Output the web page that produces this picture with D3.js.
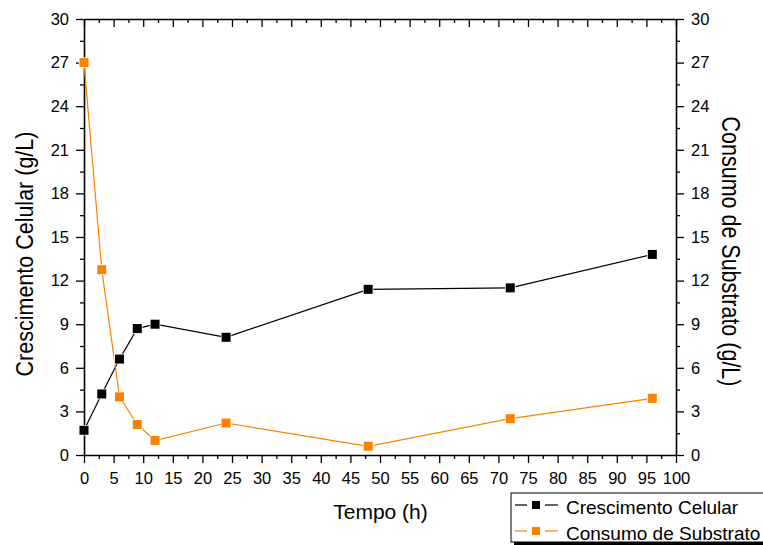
<!DOCTYPE html>
<html>
<head>
<meta charset="utf-8">
<script src="https://cdn.jsdelivr.net/npm/d3@7"></script>
<style>
  body { margin: 0; background: #fff; }
  svg { font-family: "Liberation Sans", Arial, sans-serif; }
</style>
</head>
<body>
<div id="chart"></div>
<script>
// data
const tempo = [0, 3, 6, 9, 12, 24, 48, 72, 96];
const crescimento = [1.7, 4.2, 6.6, 8.7, 9.0, 8.1, 11.4, 11.5, 13.8];
const consumo = [27.0, 12.75, 4.0, 2.1, 1.0, 2.2, 0.6, 2.5, 3.9];
const xTicks = d3.range(0, 101, 5);
const yTicks = d3.range(0, 31, 3);
const seriesNames = ["Crescimento Celular", "Consumo de Substrato"];
const seriesColors = ["#000000", "#FF8000"];

const W = 763, H = 545;
const margin = {left: 84, right: W - 676, top: 19, bottom: H - 455};
const width = W - margin.left - margin.right;
const height = H - margin.top - margin.bottom;

const svg = d3.select("#chart").append("svg")
  .attr("width", W).attr("height", H);

const g = svg.append("g")
  .attr("transform", "translate(" + margin.left + "," + margin.top + ")");

const x = d3.scaleLinear().domain([0, 100]).range([0, width]);
const yL = d3.scaleLinear().domain([0, 30]).range([height, 0]);
const yR = d3.scaleLinear().domain([0, 30]).range([height, 0]);

// minor ticks
const xMinor = d3.range(2.5, 100, 5);
const yMinor = d3.range(1.5, 30, 3);

function styleAxis(sel) {
  sel.selectAll("path").attr("stroke", "#000").attr("stroke-width", 1.6);
  sel.selectAll("line").attr("stroke", "#000").attr("stroke-width", 1.3);
  sel.selectAll("text").attr("font-size", 16.5).attr("fill", "#000");
}

// bottom
const bx = g.append("g").attr("transform", "translate(0," + height + ")")
  .call(d3.axisBottom(x).tickValues(xTicks).tickSize(8).tickSizeOuter(0).tickPadding(9));
styleAxis(bx);
g.append("g").attr("transform", "translate(0," + height + ")")
  .call(d3.axisBottom(x).tickValues(xMinor).tickSize(4).tickFormat(""))
  .call(s => { s.select("path").remove(); styleAxis(s); });

// top (ticks inward)
const tx = g.append("g")
  .call(d3.axisBottom(x).tickValues(xTicks).tickSize(8).tickSizeOuter(0).tickFormat(""));
styleAxis(tx);
g.append("g")
  .call(d3.axisBottom(x).tickValues(xMinor).tickSize(4).tickFormat(""))
  .call(s => { s.select("path").remove(); styleAxis(s); });

// left
const ly = g.append("g")
  .call(d3.axisLeft(yL).tickValues(yTicks).tickSize(8).tickSizeOuter(0).tickPadding(7));
styleAxis(ly);
g.append("g")
  .call(d3.axisLeft(yL).tickValues(yMinor).tickSize(4).tickFormat(""))
  .call(s => { s.select("path").remove(); styleAxis(s); });

// right
const ry = g.append("g").attr("transform", "translate(" + width + ",0)")
  .call(d3.axisRight(yR).tickValues(yTicks).tickSize(8).tickSizeOuter(0).tickPadding(7));
styleAxis(ry);
g.append("g").attr("transform", "translate(" + width + ",0)")
  .call(d3.axisRight(yR).tickValues(yMinor).tickSize(4).tickFormat(""))
  .call(s => { s.select("path").remove(); styleAxis(s); });

// series
const series = [
  {name: seriesNames[0], color: seriesColors[0], values: crescimento, y: yL},
  {name: seriesNames[1], color: seriesColors[1], values: consumo, y: yR}
];

series.forEach(s => {
  const pts = tempo.map((t, i) => [t, s.values[i]]);
  g.append("path")
    .datum(pts)
    .attr("fill", "none")
    .attr("stroke", s.color)
    .attr("stroke-width", 1.2)
    .attr("d", d3.line().x(d => x(d[0])).y(d => s.y(d[1])));
});

series.forEach(s => {
  const pts = tempo.map((t, i) => [t, s.values[i]]);
  g.append("g").selectAll("rect")
    .data(pts)
    .enter()
    .append("rect")
      .attr("x", d => x(d[0]) - 4.5)
      .attr("y", d => s.y(d[1]) - 4.5)
      .attr("width", 9).attr("height", 9)
      .attr("fill", s.color)
      .attr("stroke", "#fff")
      .attr("stroke-width", 1.5)
      .attr("paint-order", "stroke");
});

// axis titles
svg.append("text")
  .attr("x", 380.5).attr("y", 519)
  .attr("text-anchor", "middle").attr("font-size", 21)
  .text("Tempo (h)");

svg.append("text")
  .attr("transform", "translate(33,254) rotate(-90) scale(1,1.15)")
  .attr("text-anchor", "middle").attr("font-size", 21.5)
  .text("Crescimento Celular (g/L)");

svg.append("text")
  .attr("transform", "translate(722,251.5) rotate(90) scale(1,1.2)")
  .attr("text-anchor", "middle").attr("font-size", 21.5)
  .text("Consumo de Substrato (g/L)");

// legend
const lg = svg.append("g").attr("transform", "translate(511,493)");
lg.append("rect").attr("x", 3).attr("y", 3).attr("width", 260).attr("height", 49).attr("fill", "#000");
lg.append("rect").attr("x", 0).attr("y", 0).attr("width", 260).attr("height", 49)
  .attr("fill", "#fff").attr("stroke", "#000").attr("stroke-width", 1);

series.forEach((s, i) => {
  const cy = 12 + i * 26;
  lg.append("line").attr("x1", 4).attr("x2", 16).attr("y1", cy).attr("y2", cy)
    .attr("stroke", s.color).attr("stroke-width", 1.2);
  lg.append("line").attr("x1", 34).attr("x2", 47).attr("y1", cy).attr("y2", cy)
    .attr("stroke", s.color).attr("stroke-width", 1.2);
  lg.append("rect").attr("x", 21).attr("y", cy - 4).attr("width", 8).attr("height", 8)
    .attr("fill", s.color);
  lg.append("text").attr("x", 55).attr("y", cy + 9)
    .attr("font-size", 19).text(s.name);
});
</script>
</body>
</html>
